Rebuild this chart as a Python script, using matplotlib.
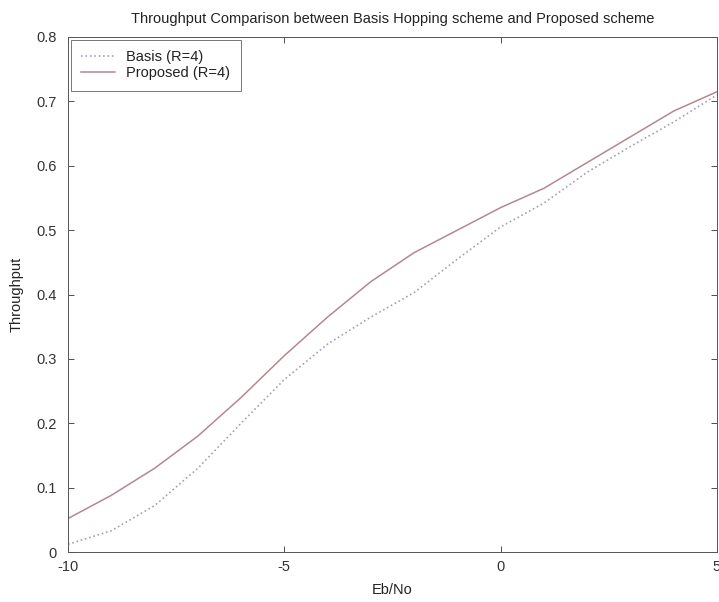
import matplotlib
matplotlib.use("Agg")
import matplotlib.pyplot as plt

plt.rcParams['font.family'] = ['Liberation Sans', 'DejaVu Sans']
plt.rcParams['axes.unicode_minus'] = False

ebno = [-10, -9, -8, -7, -6, -5, -4, -3, -2, -1, 0, 1, 2, 3, 4, 5]
basis = [0.012, 0.033, 0.072, 0.130, 0.200, 0.268, 0.323, 0.365, 0.403, 0.455,
         0.505, 0.542, 0.590, 0.630, 0.668, 0.710]
proposed = [0.052, 0.088, 0.130, 0.180, 0.240, 0.305, 0.365, 0.420, 0.465, 0.500,
            0.535, 0.565, 0.605, 0.645, 0.685, 0.715]

xticks = [-10, -5, 0, 5]
yticks = [0, 0.1, 0.2, 0.3, 0.4, 0.5, 0.6, 0.7, 0.8]
ytick_labels = ['0', '0.1', '0.2', '0.3', '0.4', '0.5', '0.6', '0.7', '0.8']

FS = 10.5

fig = plt.figure(figsize=(7.19, 6.02), dpi=100)
ax = fig.add_axes([68/719, 1 - 552/602, (717 - 68)/719, (552 - 37)/602])

ax.plot(ebno, basis, linestyle=':', color='#9ea3b8', linewidth=1.2, label='Basis (R=4)')
ax.plot(ebno, proposed, linestyle='-', color='#b58791', linewidth=1.1, label='Proposed (R=4)')

ax.set_xlim(-10, 5)
ax.set_ylim(0, 0.8)
ax.set_xticks(xticks)
ax.set_yticks(yticks)
ax.set_yticklabels(ytick_labels)
ax.tick_params(direction='in', top=True, right=True, labelsize=FS, colors='#333333',
               length=4, width=0.6)
ax.tick_params(axis='x', pad=6)
ax.tick_params(axis='y', pad=8)
for s in ax.spines.values():
    s.set_color('#555555')
    s.set_linewidth(0.7)

ax.set_title('Throughput Comparison between Basis Hopping scheme and Proposed scheme',
             fontsize=FS, color='#222222', pad=10)
ax.set_xlabel('Eb/No', fontsize=FS, color='#222222', labelpad=6)
ax.set_ylabel('Throughput', fontsize=FS, color='#222222', labelpad=9)

leg = ax.legend(loc='upper left', fontsize=FS, frameon=True, fancybox=False,
                borderaxespad=0.2, handlelength=2.3, handletextpad=0.8,
                borderpad=0.7, labelspacing=0.15)
leg.get_frame().set_edgecolor('#555555')
leg.get_frame().set_linewidth(0.7)
for t in leg.get_texts():
    t.set_color('#222222')

fig.savefig('out.png', dpi=100)
